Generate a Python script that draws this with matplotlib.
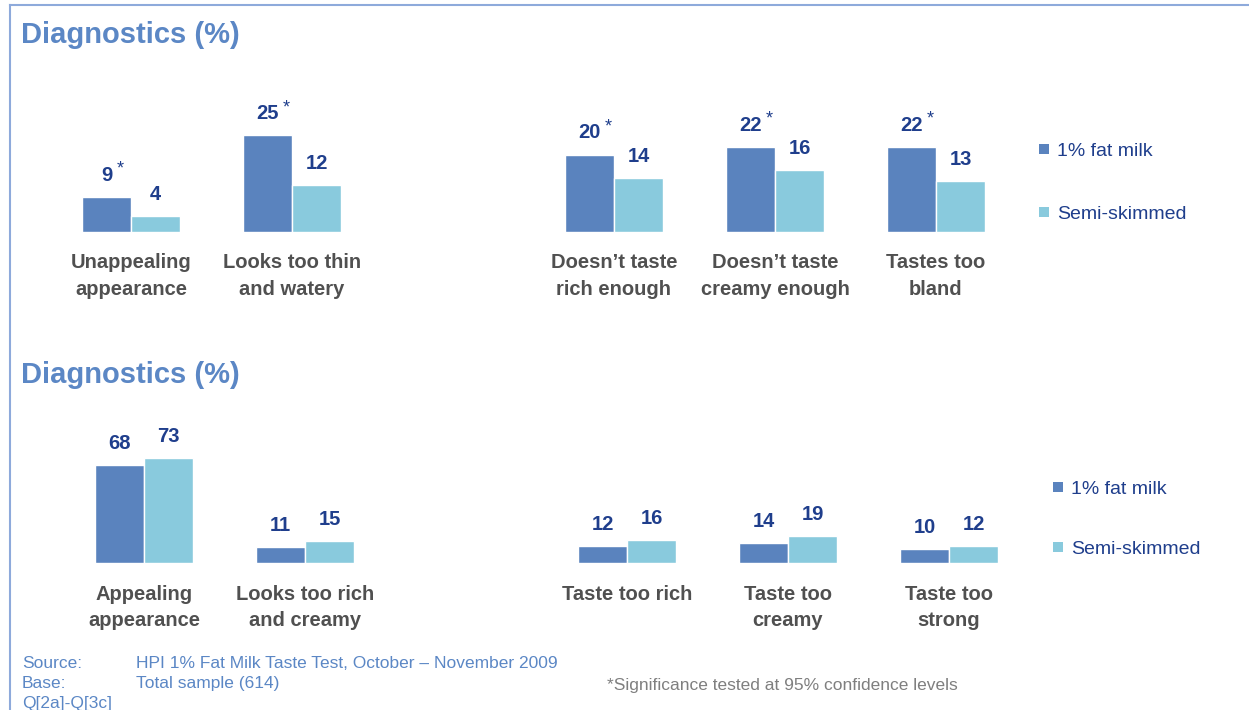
import numpy as np
import matplotlib
matplotlib.use("Agg")
import matplotlib.pyplot as plt
from matplotlib.lines import Line2D

plt.rcParams['font.family'] = ['Liberation Sans', 'DejaVu Sans']

# ---- data ----
series_names = ["1% fat milk", "Semi-skimmed"]
positions = np.array([0, 1, 3, 4, 5])

top_labels = ["Unappealing\nappearance", "Looks too thin\nand watery",
              "Doesn\u2019t taste\nrich enough", "Doesn\u2019t taste\ncreamy enough",
              "Tastes too\nbland"]
top_fat = [9, 25, 20, 22, 22]
top_semi = [4, 12, 14, 16, 13]
top_sig = [True, True, True, True, True]

bottom_labels = ["Appealing\nappearance", "Looks too rich\nand creamy",
                 "Taste too rich", "Taste too\ncreamy", "Taste too\nstrong"]
bottom_fat = [68, 11, 12, 14, 10]
bottom_semi = [73, 15, 16, 19, 12]
bottom_sig = [False, False, False, False, False]

# ---- style ----
DARK = '#5A83BE'
LIGHT = '#89CADD'
NAVY = '#1F3E8C'
GREY_TXT = '#505050'
TITLE_BLUE = '#5B87C5'
FRAME = '#8EAADB'
BAR_W = 0.305
W, H = 1249, 710
PT = 0.72  # points per pixel at 100 dpi
VAL_FS = 14.5

fig = plt.figure(figsize=(W / 100, H / 100), dpi=100)


def fx(x):
    return x / W


def fy(y):
    return 1 - y / H


def draw_panel(base_y, x0, scale, ytop, fat, semi, sig, labels):
    # axes spans the full width; x0 = pixel centre of the first group
    height = ytop * scale
    ax = fig.add_axes([0, fy(base_y), 1, height / H])
    unit = 161.0
    ax.set_xlim(-x0 / unit, (W - x0) / unit)
    ax.set_ylim(0, ytop)
    ax.axis('off')

    ax.bar(positions - BAR_W / 2, fat, BAR_W, color=DARK, edgecolor='white', linewidth=1)
    ax.bar(positions + BAR_W / 2, semi, BAR_W, color=LIGHT, edgecolor='white', linewidth=1)

    for xs, vals, flags in [(positions - BAR_W / 2, fat, sig), (positions + BAR_W / 2, semi, [False] * 5)]:
        for x, v, s in zip(xs, vals, flags):
            ax.annotate(str(v), (x, v), xytext=(0, 16 * PT), textcoords='offset points',
                        ha='center', va='baseline', fontsize=VAL_FS, fontweight='bold', color=NAVY)
            if s:
                half = len(str(v)) * 0.556 * VAL_FS / 2
                ax.annotate('*', (x, v), xytext=(half + 3, 23 * PT), textcoords='offset points',
                            ha='left', va='baseline', fontsize=13, color=NAVY)

    for x, lab in zip(positions, labels):
        ax.annotate(lab, (x, 0), xytext=(0, -21.5 * PT), textcoords='offset points',
                    ha='center', va='top', fontsize=14.5, fontweight='bold', color=GREY_TXT,
                    linespacing=1.52)
    return ax


draw_panel(231.5, 131, 3.85, 30, top_fat, top_semi, top_sig, top_labels)
draw_panel(563, 144, 1.445, 80, bottom_fat, bottom_semi, bottom_sig, bottom_labels)

# legends
handles = [Line2D([], [], marker='s', linestyle='none', markersize=6.5,
                  markeredgewidth=0, color=c) for c in (DARK, LIGHT)]
for lx, ly, spacing in [(1039, 182.5, 2.35), (1053, 519, 2.15)]:
    fig.legend(handles, series_names, loc='center left', bbox_to_anchor=(fx(lx), fy(ly)),
               bbox_transform=fig.transFigure, frameon=False, fontsize=14,
               labelcolor=NAVY, handlelength=0.5, handletextpad=0.45,
               labelspacing=spacing, borderpad=0, borderaxespad=0)

# titles
for ty in (43, 383):
    fig.text(fx(21), fy(ty), "Diagnostics (%)", ha='left', va='baseline',
             fontsize=21, fontweight='bold', color=TITLE_BLUE)

# frame
fig.add_artist(Line2D([fx(9.5), fx(9.5)], [fy(5), 0], transform=fig.transFigure,
                      color=FRAME, linewidth=1.5))
fig.add_artist(Line2D([fx(9.5), 1], [fy(5), fy(5)], transform=fig.transFigure,
                      color=FRAME, linewidth=1.5))

# footer
foot = dict(ha='left', va='baseline', fontsize=12.5, color=TITLE_BLUE)
fig.text(fx(22), fy(668), "Source:", **foot)
fig.text(fx(136), fy(668), "HPI 1% Fat Milk Taste Test, October \u2013 November 2009", **foot)
fig.text(fx(22), fy(688), "Base:", **foot)
fig.text(fx(136), fy(688), "Total sample (614)", **foot)
fig.text(fx(22), fy(708), "Q[2a]-Q[3c]", **foot)
fig.text(fx(607), fy(690), "*Significance tested at 95% confidence levels",
         ha='left', va='baseline', fontsize=12.5, color='#7F7F7F')

fig.savefig("out.png", dpi=100)
